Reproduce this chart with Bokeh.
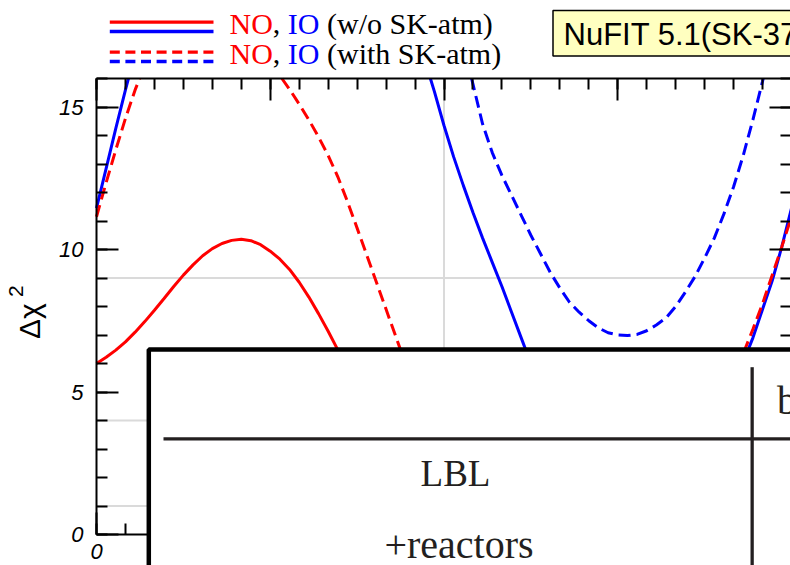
import numpy as np
from bokeh.plotting import figure
from bokeh.models import (Range1d, LinearAxis, SingleIntervalTicker,
                          BoxAnnotation, Label, CustomJSTickFormatter)
from bokeh.embed import file_html
from bokeh.resources import INLINE

# ---------------- data ----------------
delta_cp_deg = list(range(0, 361, 5))

chi2_NO_wo_SK = [6.00, 6.22, 6.47, 6.76, 7.10, 7.47, 7.87, 8.28, 8.70, 9.10,
                 9.46, 9.78, 10.03, 10.21, 10.32, 10.36, 10.31, 10.17, 9.94, 9.66,
                 9.30, 8.85, 8.33, 7.75, 7.13, 6.48, 5.82, 5.15, 4.50, 3.88,
                 3.28, 2.72, 2.18, 1.68, 1.22, 0.82, 0.50, 0.25, 0.08, 0.00,
                 0.02, 0.12, 0.28, 0.50, 0.76, 1.04, 1.33, 1.62, 1.90, 2.16,
                 2.40, 2.60, 2.78, 2.92, 3.03, 3.12, 3.20, 3.27, 3.34, 3.42,
                 3.51, 3.62, 3.75, 3.90, 4.07, 4.26, 4.47, 4.70, 4.94, 5.20,
                 5.46, 5.73, 6.00]

chi2_IO_wo_SK = [11.45, 12.85, 14.25, 15.60, 16.90, 18.10, 19.20, 20.20, 21.10, 21.90,
                 22.60, 23.20, 23.70, 24.05, 24.30, 24.45, 24.50, 24.50, 24.45, 24.35,
                 24.20, 24.00, 23.75, 23.45, 23.10, 22.70, 22.25, 21.75, 21.20, 20.60,
                 19.95, 19.20, 18.40, 17.55, 16.65, 15.55, 14.35, 13.25, 12.25, 11.30,
                 10.40, 9.55, 8.70, 7.80, 6.90, 6.00, 5.25, 4.60, 4.05, 3.60,
                 3.25, 2.95, 2.78, 2.67, 2.61, 2.60, 2.62, 2.68, 2.80, 2.97,
                 3.20, 3.47, 3.80, 4.18, 4.60, 5.05, 5.50, 6.05, 6.90, 7.90,
                 8.90, 10.10, 11.45]

chi2_NO_with_SK = [11.15, 12.35, 13.50, 14.60, 15.60, 16.45, 17.05, 17.45, 17.70, 17.85,
                   17.90, 17.90, 17.85, 17.75, 17.60, 17.40, 17.15, 16.85, 16.50, 16.10,
                   15.62, 15.10, 14.55, 13.95, 13.30, 12.55, 11.68, 10.75, 9.80, 8.85,
                   7.90, 6.95, 6.00, 5.10, 4.20, 3.40, 2.65, 1.95, 1.35, 0.85,
                   0.45, 0.18, 0.05, 0.00, 0.05, 0.20, 0.45, 0.75, 1.10, 1.45,
                   1.80, 2.10, 2.40, 2.65, 2.85, 3.00, 3.15, 3.25, 3.35, 3.42,
                   3.50, 3.65, 3.85, 4.15, 4.55, 5.00, 5.60, 6.35, 7.20, 8.10,
                   9.10, 10.10, 11.15]

chi2_IO_with_SK = [20.20, 20.70, 21.25, 21.80, 22.40, 23.00, 23.60, 24.20, 24.80, 25.35,
                   25.90, 26.35, 26.80, 27.15, 27.50, 27.75, 28.00, 28.15, 28.30, 28.35,
                   28.40, 28.35, 28.30, 28.15, 28.00, 27.75, 27.50, 27.10, 26.70, 26.20,
                   25.60, 24.90, 24.10, 23.20, 22.20, 21.10, 19.90, 18.60, 17.20, 15.80,
                   14.40, 13.40, 12.60, 11.90, 11.20, 10.50, 9.85, 9.20, 8.65, 8.15,
                   7.80, 7.50, 7.25, 7.08, 7.00, 6.98, 7.02, 7.15, 7.35, 7.60,
                   8.00, 8.50, 9.05, 9.70, 10.40, 11.25, 12.20, 13.30, 14.55, 15.90,
                   17.30, 18.75, 20.20]

sigma_levels = [1, 4, 9]
x_grid_at = [180]
x_min, x_max = 0, 360
y_min, y_max = 0, 16
x_major_step, x_minor_n = 90, 6
y_major_step, y_minor_n = 5, 5
x_tick_labels = {0: "0", 90: "", 180: "", 270: "", 360: ""}   # only "0" is left uncovered

legend_line1 = [("NO", "#ff0000"), (",", "black"), ("IO", "#0000ff"), ("(w/o SK-atm)", "black")]
legend_line2 = [("NO", "#ff0000"), (",", "black"), ("IO", "#0000ff"), ("(with SK-atm)", "black")]
badge_text = "NuFIT 5.1(SK-37"
table_texts = ["LBL", "+reactors", "b"]

# ---------------- geometry (picture pixels -> data) ----------------
CW, CH = 790, 565
PX_X = 695 / 360             # px per degree
PX_Y = 28.5                  # px per unit of chi2
SX0, SY0 = 96, 534           # picture position of (0, 0)
K_BASE = 0.40                # shift of the label anchor vs. the glyph baseline


def dx(sx):
    return (sx - SX0) / PX_X


def dy(sy):
    return (SY0 - sy) / PX_Y


def clip_top(xs, ys, top):
    """Cut a polyline where it leaves the plotting box through its top edge."""
    ox, oy = [], []
    for i, (x, y) in enumerate(zip(xs, ys)):
        if i > 0:
            xp, yp = xs[i - 1], ys[i - 1]
            if (yp <= top) != (y <= top):
                t = (top - yp) / (y - yp)
                ox.append(xp + t * (x - xp))
                oy.append(top)
                if y > top:
                    ox.append(np.nan)
                    oy.append(np.nan)
        if y <= top:
            ox.append(x)
            oy.append(y)
    return ox, oy


p = figure(width=CW, height=CH, title=None,
           x_range=Range1d(dx(0), dx(CW)), y_range=Range1d(dy(CH), dy(0)),
           output_backend="svg", toolbar_location=None,
           x_axis_location=None, y_axis_location=None, min_border=0)
p.background_fill_color = "white"
p.border_fill_color = "white"
p.outline_line_color = None
p.grid.grid_line_color = None
p.grid.visible = False

TICK_FONT = "Liberation Sans"


def make_axis(step, nminor, loc, bounds, labels=True):
    ax = LinearAxis(ticker=SingleIntervalTicker(interval=step, num_minor_ticks=nminor),
                    fixed_location=loc, bounds=bounds)
    ax.axis_line_color = "black"
    ax.axis_line_width = 2
    ax.major_tick_in = 22
    ax.major_tick_out = 0
    ax.minor_tick_in = 11
    ax.minor_tick_out = 0
    ax.major_tick_line_width = 2
    ax.minor_tick_line_width = 2
    ax.major_tick_line_color = "black"
    ax.minor_tick_line_color = "black"
    ax.major_label_text_font = TICK_FONT
    ax.major_label_text_font_style = "italic"
    ax.major_label_text_font_size = "22px"
    ax.major_label_text_color = "black"
    if not labels:
        ax.formatter = CustomJSTickFormatter(code="return ''")
        ax.major_label_standoff = 0
    return ax


# grid lines (under everything)
p.segment(x0=[x_min] * len(sigma_levels), y0=sigma_levels,
          x1=[x_max] * len(sigma_levels), y1=sigma_levels,
          line_color="#dadada", line_width=2, level="underlay")
p.segment(x0=x_grid_at, y0=[y_min] * len(x_grid_at), x1=x_grid_at, y1=[y_max] * len(x_grid_at),
          line_color="#dadada", line_width=2, level="underlay")

# axes drawn at the data box edges
left_ax = make_axis(y_major_step, y_minor_n, x_min, (y_min, y_max))
left_ax.major_label_standoff = 13
p.add_layout(left_ax, "left")
bottom_ax = make_axis(x_major_step, x_minor_n, y_min, (x_min, x_max))
bottom_ax.major_label_standoff = 9
bottom_ax.major_label_overrides = x_tick_labels
p.add_layout(bottom_ax, "below")
p.add_layout(make_axis(x_major_step, x_minor_n, y_max, (x_min, x_max), labels=False), "above")
p.add_layout(make_axis(y_major_step, y_minor_n, x_max, (y_min, y_max), labels=False), "right")

# ---------------- curves ----------------
DASH = "12 6"
curves = [(chi2_NO_wo_SK, "#ff0000", "solid"),
          (chi2_IO_wo_SK, "#0000ff", "solid"),
          (chi2_NO_with_SK, "#ff0000", DASH),
          (chi2_IO_with_SK, "#0000ff", DASH)]
for vals, col, dash in curves:
    cx, cy = clip_top(delta_cp_deg, vals, y_max)
    p.line(cx, cy, line_color=col, line_width=3, line_dash=dash)


def box(l, r, t, b, fill, line=None, lw=0):
    p.add_layout(BoxAnnotation(left=dx(l), right=dx(r), top=dy(t), bottom=dy(b),
                               fill_color=fill, fill_alpha=1.0,
                               line_color=line, line_alpha=1.0, line_width=lw,
                               level="annotation"))


def lab(text, sx, sy, size, color="black", font="Liberation Serif", align="left",
        rotated=False):
    # (sx, sy): picture position of the start (or centre) of the glyph baseline
    if rotated:
        ax_, ay_, ang = sx - K_BASE * size, sy, np.pi / 2
    else:
        ax_, ay_, ang = sx, sy - K_BASE * size, 0.0
    p.add_layout(Label(x=dx(ax_), y=dy(ay_), text=text, text_font=font,
                       text_font_size=f"{size}px", text_color=color, text_align=align,
                       text_baseline="alphabetic", angle=ang))


# ---------------- y axis title ----------------
lab("Δχ", 40.5, 338.5, 30, font="Liberation Sans", rotated=True)
lab("2", 24.0, 296.5, 21, font="Liberation Sans", rotated=True)

# ---------------- legend ----------------
box(109.3, 213, 20.0, 23.3, "#ff0000")
box(109.3, 213, 29.3, 32.7, "#0000ff")
for i in range(7):
    x0 = 109.3 + i * 15.6
    box(x0, x0 + 10, 50.0, 53.3, "#ff0000")
    box(x0, x0 + 10, 59.3, 62.7, "#0000ff")

x_positions = [229, 272.3, 287.3, 326.5]
for (txt, col), xp in zip(legend_line1, x_positions):
    lab(txt, xp, 35, 30, color=col)
for (txt, col), xp in zip(legend_line2, x_positions):
    lab(txt, xp, 65, 30, color=col)

# ---------------- NuFIT badge ----------------
box(552.5, 830, 10, 55.5, "#ffffc0", line="black", lw=1.5)
lab(badge_text, 563, 46, 31, font="Liberation Sans")

# ---------------- overlaid table ----------------
box(148.3, 840, 349, 620, "white", line="black", lw=4.5)
box(163, 840, 436.7, 440, "#231f20")
box(750, 753.3, 366.7, 620, "#231f20")
lab(table_texts[0], 455, 488, 37, color="#231f20", align="center")
lab(table_texts[1], 458.5, 560, 40, color="#231f20", align="center")
lab(table_texts[2], 776.5, 416, 40, color="#231f20")

open("out.html", "w").write(file_html(p, INLINE))
